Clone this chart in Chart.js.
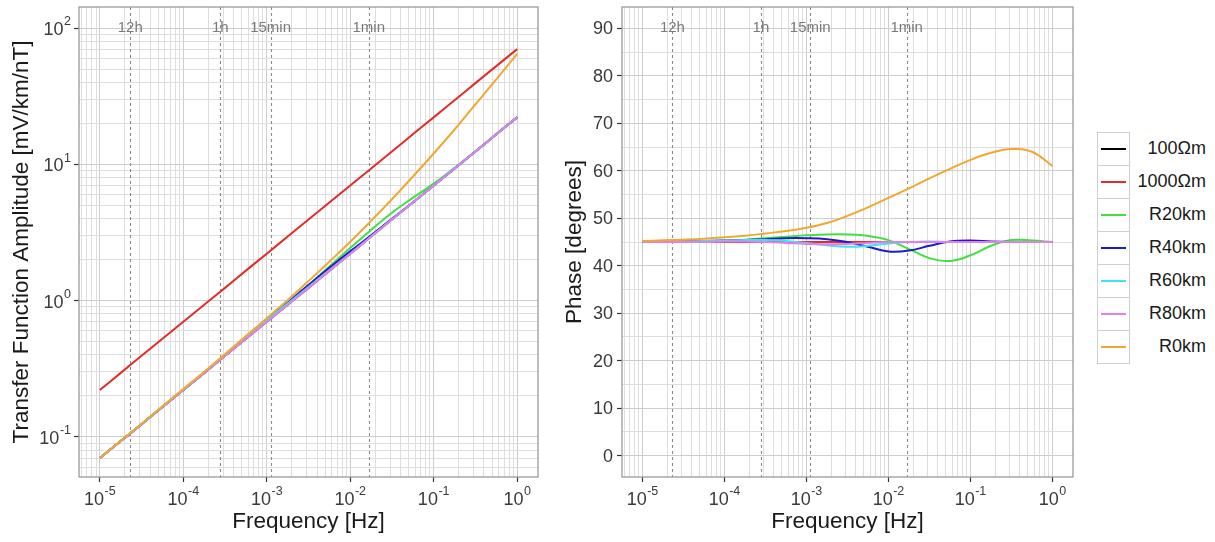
<!DOCTYPE html>
<html><head><meta charset="utf-8">
<script src="https://cdn.jsdelivr.net/npm/chart.js@4/dist/chart.umd.min.js"></script>
<style>
html,body{margin:0;padding:0;background:#fff;}
body{width:1215px;height:542px;overflow:hidden;position:relative;font-family:"Liberation Sans",Arial,sans-serif;}
#w1{position:absolute;left:0;top:0;width:545px;height:542px;}
#w2{position:absolute;left:545px;top:0;width:540px;height:542px;}
#legend{position:absolute;left:1097px;top:132px;}
.row{position:relative;height:33px;width:115px;}
.key{position:absolute;left:0;top:0;width:33px;height:34px;box-sizing:border-box;border:1px solid #cfcfcf;background:#fff;}
.key span{position:absolute;left:3px;right:3px;top:15px;height:2px;}
.lab{position:absolute;left:33px;width:76px;top:0;height:33px;line-height:33px;text-align:right;font-size:18px;color:#1a1a1a;}
</style></head>
<body>
<div id="w1"><canvas id="c1" width="545" height="542"></canvas></div>
<div id="w2"><canvas id="c2" width="540" height="542"></canvas></div>
<div id="legend"></div>
<script>
// ---- data ----
const freq = [1e-5,1.78e-5,3.16e-5,5.62e-5,1e-4,1.78e-4,3.16e-4,5.62e-4,1e-3,1.78e-3,3.16e-3,5.62e-3,1e-2,1.78e-2,3.16e-2,5.62e-2,0.1,0.178,0.316,0.562,1];
const seriesNames = ['100Ωm','1000Ωm','R20km','R40km','R60km','R80km','R0km'];
const seriesColors = ['#000000','#e32b2b','#3fe03f','#1c1ccc','#3fe3e8','#e57fe8','#f0a830'];

const ampOhm100  = [0.0700,0.0933,0.124,0.166,0.221,0.295,0.394,0.525,0.700,0.933,1.24,1.66,2.21,2.95,3.94,5.25,7.00,9.33,12.4,16.6,22.1];
const ampOhm1000 = [0.221,0.295,0.394,0.525,0.700,0.933,1.24,1.66,2.21,2.95,3.94,5.25,7.00,9.33,12.4,16.6,22.1,29.5,39.4,52.5,70.0];
const ampR20 = [0.0700,0.0933,0.124,0.166,0.221,0.295,0.396,0.530,0.714,0.961,1.30,1.78,2.43,3.30,4.41,5.67,7.21,9.42,12.4,16.6,22.1];
const ampR40 = [0.0700,0.0933,0.124,0.166,0.221,0.295,0.394,0.530,0.714,0.966,1.30,1.74,2.30,3.01,3.98,5.25,7.00,9.33,12.4,16.6,22.1];
const ampR60 = [0.0700,0.0933,0.124,0.166,0.221,0.295,0.394,0.530,0.714,0.952,1.26,1.67,2.21,2.95,3.94,5.25,7.00,9.33,12.4,16.6,22.1];
const ampR80 = [0.0700,0.0933,0.124,0.166,0.221,0.295,0.394,0.525,0.697,0.929,1.24,1.66,2.21,2.95,3.94,5.25,7.00,9.33,12.4,16.6,22.1];
const ampR0  = [0.0700,0.0935,0.125,0.168,0.225,0.301,0.406,0.549,0.743,1.01,1.39,1.93,2.70,3.85,5.54,8.10,12.0,18.0,27.5,42.0,64.5];

const phOhm100  = [45,45,45,45,45,45,45,45,45,45,45,45,45,45,45,45,45,45,45,45,45];
const phOhm1000 = [45,45,45,45,45,45,45,45,45,45,45,45,45,45,45,45,45,45,45,45,45];
const phR20 = [45.0,45.0,45.1,45.2,45.3,45.5,45.8,46.1,46.4,46.6,46.6,46.3,45.4,43.5,41.6,41.0,42.2,44.2,45.4,45.3,45.0];
const phR40 = [45.0,45.0,45.1,45.2,45.3,45.4,45.6,45.8,45.8,45.6,45.0,44.0,43.0,43.2,44.2,45.1,45.3,45.1,45.0,45.0,45.0];
const phR60 = [45.0,45.0,45.1,45.2,45.3,45.4,45.4,45.2,44.8,44.3,44.0,44.2,44.7,45.0,45.1,45.0,45.0,45.0,45.0,45.0,45.0];
const phR80 = [45.0,45.0,45.0,45.0,45.1,45.1,45.0,44.8,44.6,44.5,44.6,44.8,45.0,45.0,45.0,45.0,45.0,45.0,45.0,45.0,45.0];
const phR0  = [45.2,45.35,45.5,45.7,46.0,46.3,46.8,47.3,48.0,49.0,50.5,52.3,54.3,56.3,58.4,60.4,62.3,63.8,64.6,64.0,61.0];

const refFreqs  = [2.315e-5, 2.778e-4, 1.111e-3, 1.667e-2];
const refLabels = ['12h','1h','15min','1min'];

const ampSeries = [ampOhm100, ampOhm1000, ampR20, ampR40, ampR60, ampR80, ampR0];
const phSeries  = [phOhm100, phOhm1000, phR20, phR40, phR60, phR80, phR0];

// ---- styling helpers ----
const FONT = '"Liberation Sans", Arial, sans-serif';
const GRID_MAJOR = '#cdcdcd', GRID_MINOR = '#dedede';
function isMajorLog(v){ const l = Math.log10(v); return Math.abs(l - Math.round(l)) < 1e-6; }
function logTicks(min, max){
  const t = [];
  for (let e = -8; e <= 4; e++) for (let k = 1; k <= 9; k++) {
    const v = k * Math.pow(10, e);
    if (v >= min && v <= max) t.push({value: v});
  }
  return t;
}
function makeDatasets(series){
  return series.map((vals, i) => ({
    label: seriesNames[i],
    data: vals.map((v, j) => ({x: freq[j], y: v})),
    borderColor: seriesColors[i],
    backgroundColor: seriesColors[i],
    borderWidth: 2,
    pointRadius: 0,
    tension: 0.4,
    fill: false,
    order: series.length - 1 - i
  }));
}
function drawPow(ctx, x, y, exp, align){
  const base = '10', e = String(exp);
  ctx.save();
  ctx.fillStyle = '#3a3a3a';
  ctx.textBaseline = 'middle';
  ctx.textAlign = 'left';
  ctx.font = '18px ' + FONT; const wb = ctx.measureText(base).width;
  ctx.font = '12.5px ' + FONT; const we = ctx.measureText(e).width;
  const total = wb + we + 0.5;
  const x0 = align === 'center' ? x - total / 2 : x - total;
  ctx.font = '18px ' + FONT; ctx.fillText(base, x0, y);
  ctx.font = '12.5px ' + FONT; ctx.fillText(e, x0 + wb + 0.5, y - 8);
  ctx.restore();
}
const panelPlugin = {
  id: 'panel',
  beforeDatasetsDraw(chart){
    const {ctx, chartArea: a} = chart;
    const xs = chart.scales.x;
    ctx.save();
    ctx.beginPath(); ctx.rect(a.left, a.top, a.right - a.left, a.bottom - a.top); ctx.clip();
    ctx.strokeStyle = '#8a8a8a'; ctx.lineWidth = 1.1; ctx.setLineDash([3, 3]);
    refFreqs.forEach(f => {
      const px = Math.round(xs.getPixelForValue(f)) + 0.5;
      ctx.beginPath(); ctx.moveTo(px, a.top); ctx.lineTo(px, a.bottom); ctx.stroke();
    });
    ctx.setLineDash([]);
    ctx.fillStyle = '#7a7a7a'; ctx.font = '15px ' + FONT;
    ctx.textAlign = 'center'; ctx.textBaseline = 'middle';
    refFreqs.forEach((f, i) => ctx.fillText(refLabels[i], xs.getPixelForValue(f), 28));
    ctx.restore();
  },
  afterDraw(chart, args, opts){
    const {ctx, chartArea: a} = chart;
    ctx.save();
    ctx.strokeStyle = '#9a9a9a'; ctx.lineWidth = 1.3;
    ctx.strokeRect(a.left, a.top, a.right - a.left, a.bottom - a.top);
    ctx.restore();
    const xs = chart.scales.x;
    xs.ticks.forEach(t => {
      if (isMajorLog(t.value)) drawPow(ctx, xs.getPixelForValue(t.value), 500, Math.round(Math.log10(t.value)), 'center');
    });
    const ys = chart.scales.y;
    if (opts.logY) {
      ys.ticks.forEach(t => {
        if (isMajorLog(t.value)) drawPow(ctx, ys.right - 8, ys.getPixelForValue(t.value) + 2, Math.round(Math.log10(t.value)), 'right');
      });
    } else {
      ctx.save();
      ctx.fillStyle = '#3a3a3a'; ctx.font = '18px ' + FONT;
      ctx.textAlign = 'right'; ctx.textBaseline = 'middle';
      ys.ticks.forEach(t => {
        if (t.value % 10 === 0) ctx.fillText(String(t.value), ys.right - 9, ys.getPixelForValue(t.value) + 1);
      });
      ctx.restore();
    }
  }
};

function xAxis(){
  return {
    type: 'logarithmic', min: 5.623e-6, max: 1.778,
    afterBuildTicks: s => { s.ticks = logTicks(5.623e-6, 1.778); },
    afterFit: s => { s.height = 65; },
    ticks: {display: false},
    border: {display: false},
    grid: {
      color: c => (c.tick && isMajorLog(c.tick.value)) ? GRID_MAJOR : GRID_MINOR,
      lineWidth: 1,
      drawTicks: true, tickLength: 5,
      tickColor: c => (c.tick && isMajorLog(c.tick.value)) ? '#333333' : 'rgba(0,0,0,0)',
      tickWidth: 1.2
    },
    title: {display: true, text: 'Frequency [Hz]', font: {family: FONT, size: 22.5}, color: '#1a1a1a', padding: {top: 0, bottom: 6.5}}
  };
}

new Chart(document.getElementById('c1'), {
  type: 'line',
  data: {datasets: makeDatasets(ampSeries)},
  plugins: [panelPlugin],
  options: {
    responsive: false, animation: false, events: [],
    layout: {autoPadding: false, padding: {top: 7, right: 7, left: 0, bottom: 0}},
    plugins: {legend: {display: false}, tooltip: {enabled: false}, panel: {logY: true}},
    scales: {
      x: xAxis(),
      y: {
        type: 'logarithmic', min: 0.0508, max: 142.6,
        afterBuildTicks: s => { s.ticks = logTicks(0.0508, 142.6); },
        afterFit: s => { s.width = 79; },
        ticks: {display: false},
        border: {display: false},
        grid: {
          color: c => (c.tick && isMajorLog(c.tick.value)) ? GRID_MAJOR : GRID_MINOR,
          lineWidth: 1, drawTicks: true, tickLength: 5,
          tickColor: c => (c.tick && isMajorLog(c.tick.value)) ? '#333333' : 'rgba(0,0,0,0)',
          tickWidth: 1.2
        },
        title: {display: true, text: 'Transfer Function Amplitude [mV/km/nT]', font: {family: FONT, size: 22.5}, color: '#1a1a1a', padding: {top: 8.5, bottom: 0}}
      }
    }
  }
});

new Chart(document.getElementById('c2'), {
  type: 'line',
  data: {datasets: makeDatasets(phSeries)},
  plugins: [panelPlugin],
  options: {
    responsive: false, animation: false, events: [],
    layout: {autoPadding: false, padding: {top: 7, right: 12, left: 0, bottom: 0}},
    plugins: {legend: {display: false}, tooltip: {enabled: false}, panel: {logY: false}},
    scales: {
      x: xAxis(),
      y: {
        type: 'linear', min: -4.5, max: 94.5,
        afterBuildTicks: s => { const t = []; for (let v = 0; v <= 90; v += 5) t.push({value: v}); s.ticks = t; },
        afterFit: s => { s.width = 77; },
        ticks: {display: false},
        border: {display: false},
        grid: {
          color: c => (c.tick && c.tick.value % 10 === 0) ? GRID_MAJOR : GRID_MINOR,
          lineWidth: 1, drawTicks: true, tickLength: 5,
          tickColor: c => (c.tick && c.tick.value % 10 === 0) ? '#333333' : 'rgba(0,0,0,0)',
          tickWidth: 1.2
        },
        title: {display: true, text: 'Phase [degrees]', font: {family: FONT, size: 22.5}, color: '#1a1a1a', padding: {top: 16.5, bottom: 0}}
      }
    }
  }
});

// legend (HTML)
const lg = document.getElementById('legend');
seriesNames.forEach((n, i) => {
  const r = document.createElement('div'); r.className = 'row';
  r.innerHTML = '<div class="key"><span style="background:' + seriesColors[i] + '"></span></div><div class="lab">' + n + '</div>';
  lg.appendChild(r);
});
</script>
</body></html>
